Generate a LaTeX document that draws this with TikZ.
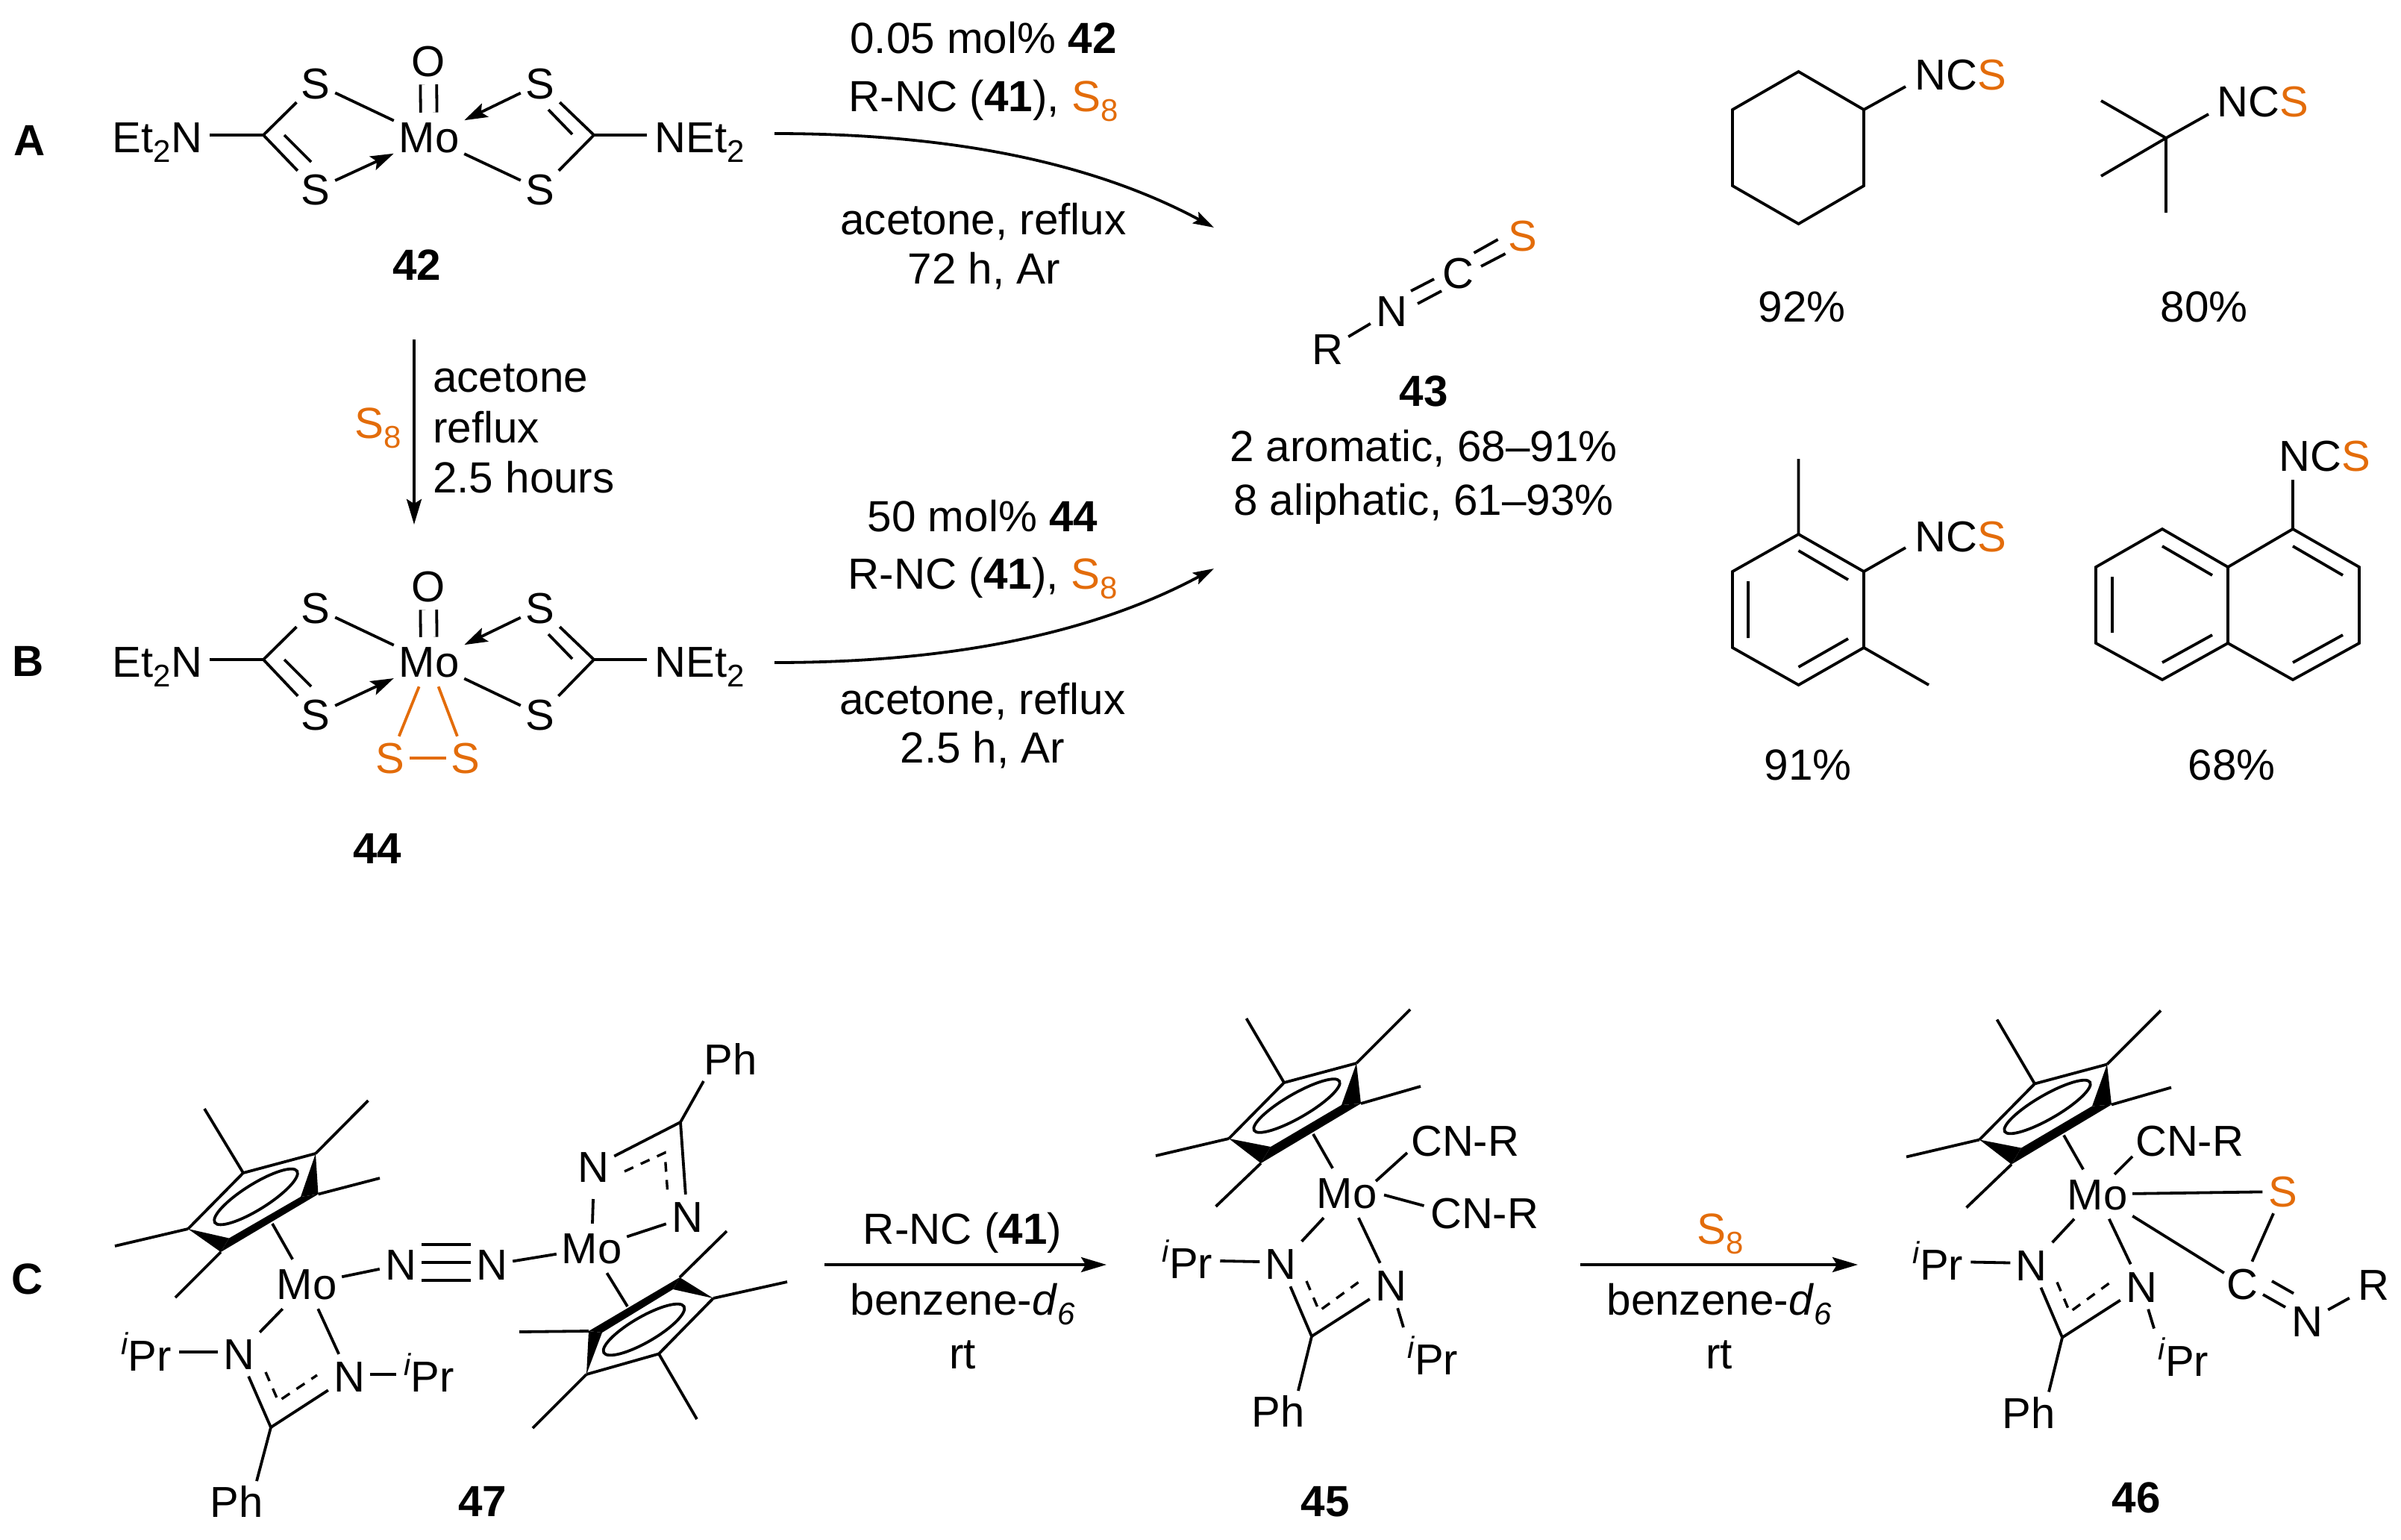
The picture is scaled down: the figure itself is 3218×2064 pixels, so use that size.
\documentclass[tikz,border=0pt]{standalone}
\usepackage{fontspec}
\setmainfont{Liberation Sans}
\usetikzlibrary{arrows.meta,calc}
\definecolor{sulf}{RGB}{227,108,10}
\newcommand\sbt[1]{\raisebox{-13pt}{\fontsize{42}{42}\selectfont #1}}
\newcommand\ipr{\raisebox{22pt}{\fontsize{41}{41}\selectfont\itshape i}Pr}
\newcommand\Seight{\textcolor{sulf}{S\sbt{8}}}
\newcommand\NCS{NC\textcolor{sulf}{S}}
\tikzset{
 bond/.style={line width=3.8pt},
 dat/.style={bond,-{Stealth[length=31pt,width=20pt,inset=6pt]}},
 rarrow/.style={bond,-{Stealth[length=34pt,width=20pt,inset=6pt]}},
 carrow/.style={bond,-{Stealth[length=28pt,width=17pt,inset=5pt]}},
 dbond/.style={line width=3.4pt,dash pattern=on 13pt off 11pt},
 dobl/.style={bond,double,double distance=18pt},
 txt/.style={font=\fontsize{58.4}{60}\selectfont,inner sep=0pt,text height=42pt,text depth=0pt},
 boldt/.style={txt,font=\fontsize{58.4}{60}\selectfont\bfseries},
 lab/.style={font=\fontsize{58}{60}\selectfont,inner sep=0pt,text height=41.5pt,text depth=0pt},
 atom/.style={lab,minimum width=56pt,minimum height=60pt},
 satom/.style={lab,minimum width=52pt,minimum height=50pt},
 oatom/.style={lab,minimum width=52pt,minimum height=62pt},
 matom/.style={lab,minimum width=94pt,minimum height=66pt},
 group/.style={lab,inner xsep=10pt,inner ysep=12pt},
 ncsl/.style={lab,anchor=west},
}
% Cp*Mo amidinate fragment shared by 45 and 46
\newcommand\mofrag[2]{%
\begin{scope}[shift={#2}]
 \coordinate (#1r1) at (1647,1526);
 \coordinate (#1r2) at (1721,1451);
 \coordinate (#1r3) at (1818,1425);
 \coordinate (#1r4) at (1824,1479);
 \coordinate (#1r5) at (1798,1481);
 \coordinate (#1r6) at (1690,1559);
 \coordinate (#1r7) at (1703,1537);
 \coordinate (#1e) at (1738,1482);
 \coordinate (#1m1) at (1670.5,1365);
 \coordinate (#1m2) at (1890,1353);
 \coordinate (#1m3) at (1904,1456);
 \coordinate (#1m4) at (1549,1549);
 \coordinate (#1m5) at (1629.5,1617);
 \coordinate (#1cp) at (1760,1520);
 \coordinate (#1cc) at (1758,1791);
 \coordinate (#1phb) at (1740,1864);
 \coordinate (#1ib) at (1881,1779);
 \coordinate (#1d1) at (1751,1717);
 \coordinate (#1d2) at (1768,1757);
 \coordinate (#1d3) at (1820.5,1718.6);
 \draw[bond,line join=miter] (#1r1)--(#1r2)--(#1r3);
 \fill (#1r3)--(#1r5)--(#1r4)--cycle;
 \fill (#1r5)--(#1r4)--(#1r6)--(#1r7)--cycle;
 \fill (#1r1)--(#1r7)--(#1r6)--cycle;
 \draw[bond] (#1r2)--(#1m1) (#1r3)--(#1m2) (#1r4)--(#1m3) (#1r1)--(#1m4) (#1r6)--(#1m5);
 \draw[bond,rotate around={30:(#1e)}] (#1e) ellipse [x radius=66pt,y radius=16pt];
 \node[matom] (#1mo) at (1805,1599) {Mo};
 \node[atom] (#1nl) at (1716.5,1694) {N};
 \node[atom] (#1nr) at (1864,1723) {N};
 \node[group] (#1il) at (1591.5,1693) {\ipr};
 \node[lab] (#1ir) at (1920.5,1822) {\ipr};
 \node[lab] (#1ph) at (1713,1892) {Ph};
 \draw[bond] (#1mo)--(#1cp);
 \draw[bond] (#1mo)--(#1nl);
 \draw[bond] (#1mo)--(#1nr);
 \draw[bond] (#1cc)--(#1nl);
 \draw[bond] (#1cc)--(#1nr);
 \draw[bond] (#1cc)--(#1phb);
 \draw[bond] (#1nr)--(#1ib);
 \draw[bond] ([yshift=3pt]#1nl.west)--([yshift=3pt]#1il.east);
 \draw[dbond] (#1d1)--(#1d2)--(#1d3);
\end{scope}}
% dithiocarbamate Mo complex of A and B
\newcommand\mocx[6]{% prefix, Mo y, C y, S up y, S down y, O y
 \node[matom] (#1mo) at (575,#2) {Mo};
 \node[oatom] (#1o) at (574,#6) {O};
 \node[satom] (#1s1) at (423,#4) {S};
 \node[satom] (#1s2) at (423,#5) {S};
 \node[satom] (#1s3) at (724,#4) {S};
 \node[satom] (#1s4) at (724,#5) {S};
 \coordinate (#1c1) at (353,#3);
 \coordinate (#1c2) at (796,#3);
 \node[group] (#1ln) at (211,#2) {Et\sbt{2}N};
 \node[group] (#1rn) at (937.5,#2) {NEt\sbt{2}};
 \draw[dobl] (#1o)--(#1mo);
 \draw[bond] (#1c1)--(#1s1);
 \draw[bond] (#1c1)--(#1s2);
 \draw[bond] (#1c2)--(#1s3);
 \draw[bond] (#1c2)--(#1s4);
 \draw[bond] (#1c1)--(#1c1-|#1ln.east);
 \draw[bond] (#1c2)--(#1c2-|#1rn.west);
 \draw[bond] ($(#1c1)+(28,0)$)--($(#1c1)+(64,36)$);
 \draw[bond] ($(#1c2)+(-29,-1)$)--($(#1c2)+(-61,-34)$);
 \draw[bond] (#1s1)--(#1mo);
 \draw[bond] (#1s4)--(#1mo);
 \draw[dat] (#1s2)--(#1mo);
 \draw[dat] (#1s3)--(#1mo);
}
\begin{document}
\begin{tikzpicture}[x=1pt,y=-1pt]
\path[use as bounding box] (0,0) rectangle (3218,2064);
% panel labels
\node[boldt] (lA) at (40,187) {A};
\node[boldt] (lB) at (38,885) {B};
\node[boldt] (lC) at (37,1713) {C};
% complexes 42 and 44
\mocx{a}{184}{181}{112}{254}{82}
\mocx{b}{887}{884}{815}{958}{786}
\node[boldt] (n42) at (559,354) {42};
\node[boldt] (n44) at (506,1136) {44};
\node[lab,text=sulf,minimum width=52pt,minimum height=58pt] (bs5) at (523,1016) {S};
\node[lab,text=sulf,minimum width=52pt,minimum height=58pt] (bs6) at (624,1016) {S};
\draw[bond,draw=sulf] (bmo)--(bs5);
\draw[bond,draw=sulf] (bmo)--(bs6);
\draw[bond,draw=sulf] (bs5)--(bs6);
% vertical arrow
\coordinate (v1) at (555,455);
\coordinate (v2) at (555,703);
\draw[rarrow] (v1)--(v2);
\node[txt,anchor=west] (vt1) at (580,504) {acetone};
\node[txt,anchor=west] (vt2) at (580,572) {reflux};
\node[txt,anchor=west] (vt3) at (580,639) {2.5 hours};
\node[txt] (vs8) at (507,566) {\Seight};
% curved arrows
\coordinate (ca1) at (1038,179);
\coordinate (ca2) at (1627,305);
\coordinate (cb1) at (1038,888);
\coordinate (cb2) at (1627,762);
\draw[carrow] (ca1) .. controls (1250,179) and (1450,210) .. (ca2);
\draw[carrow] (cb1) .. controls (1250,888) and (1450,857) .. (cb2);
\node[txt] (ta1) at (1318,50) {0.05 mol\% \textbf{42}};
\node[txt] (ta2) at (1318,128) {R-NC (\textbf{41}), \Seight};
\node[txt] (ta3) at (1318,293) {acetone, reflux};
\node[txt] (ta4) at (1319,359) {72 h, Ar};
\node[txt] (tb1) at (1317,691) {50 mol\% \textbf{44}};
\node[txt] (tb2) at (1317,768) {R-NC (\textbf{41}), \Seight};
\node[txt] (tb3) at (1317,936) {acetone, reflux};
\node[txt] (tb4) at (1317,1001) {2.5 h, Ar};
% product 43
\node[atom] (pr) at (1779,468) {R};
\node[atom] (pn) at (1865,417) {N};
\node[lab] (pc) at (1954,366) {C};
\node[lab,text=sulf] (ps) at (2040.6,316) {S};
\draw[bond] (pr)--(pn);
\draw[bond] (1891,390)--(1922,374) (1900,407)--(1932,390);
\draw[bond] (1975.5,339)--(2007.6,321) (1985,357)--(2017.6,340);
\node[boldt] (n43) at (1908,523) {43};
\node[txt] (y1) at (1908,597) {2 aromatic, 68–91\%};
\node[txt] (y2) at (1908,669) {8 aliphatic, 61–93\%};
% cyclohexyl
\draw[bond,line join=miter] (2410.5,96) coordinate (h1)--(2498,147) coordinate (h2)--(2498,249)--(2410.5,300)--(2322,249)--(2322,147)--cycle;
\node[ncsl] (s1) at (2566,100) {\NCS};
\coordinate (s1b) at (2554,116);
\draw[bond] (h2)--(s1b);
\node[txt] (y92) at (2415,410) {92\%};
% tert-butyl
\coordinate (t0) at (2903,185);
\coordinate (t1) at (2816,135);
\coordinate (t2) at (2816,236);
\coordinate (t3) at (2903,285);
\coordinate (t4) at (2960,153);
\draw[bond] (t0)--(t1) (t0)--(t2) (t0)--(t3) (t0)--(t4);
\node[ncsl] (s2) at (2971,136) {\NCS};
\node[txt] (y80) at (2954,410) {80\%};
% xylyl
\draw[bond,line join=miter] (2410.5,716) coordinate (x1)--(2498,766) coordinate (x2)--(2498,868) coordinate (x3)--(2410.5,918)--(2322,868)--(2322,766)--cycle;
\coordinate (x4) at (2410.5,615);
\coordinate (x5) at (2585,918);
\coordinate (x6) at (2554,734);
\draw[bond] (x1)--(x4) (x3)--(x5) (x2)--(x6);
\draw[bond] (2410.5,738)--(2477,777) (2343,779)--(2343,855) (2410.5,894)--(2477,856);
\node[ncsl] (s3) at (2566,719) {\NCS};
\node[txt] (y91) at (2423,1024) {91\%};
% naphthyl
\draw[bond,line join=miter] (3073,709) coordinate (k1)--(3162,760)--(3162,862)--(3073,911)--(2986,862) coordinate (k2)--(2986,760) coordinate (k3)--cycle;
\draw[bond,line join=miter] (k3)--(2898,709)--(2809,760)--(2809,862)--(2898,911)--(k2);
\coordinate (k4) at (3073,643);
\draw[bond] (k1)--(k4);
\draw[bond] (2898,732)--(2965,771) (2831,773)--(2831,848) (2898,888)--(2965,851);
\draw[bond] (3073,732)--(3140,771) (3073,888)--(3140,851);
\node[ncsl] (s4) at (3054,611) {\NCS};
\node[txt] (y68) at (2991,1024) {68\%};
% ---------- 47 ----------
\coordinate (e1) at (252,1647);
\coordinate (e2) at (326,1572);
\coordinate (e3) at (423,1546);
\coordinate (e4) at (426.5,1600.5);
\coordinate (e5) at (403,1604);
\coordinate (e6) at (296,1678);
\coordinate (e7) at (307,1659.5);
\coordinate (ec) at (343,1604);
\draw[bond,line join=miter] (e1)--(e2)--(e3);
\fill (e3)--(e5)--(e4)--cycle;
\fill (e5)--(e4)--(e6)--(e7)--cycle;
\fill (e1)--(e7)--(e6)--cycle;
\coordinate (em1) at (274,1486);
\coordinate (em2) at (493.5,1475);
\coordinate (em3) at (509,1579);
\coordinate (em4) at (154,1670);
\coordinate (em5) at (235,1739);
\draw[bond] (e2)--(em1) (e3)--(em2) (e4)--(em3) (e1)--(em4) (e6)--(em5);
\draw[bond,rotate around={32:(ec)}] (ec) ellipse [x radius=65pt,y radius=17pt];
\node[matom] (qm1) at (411,1721) {Mo};
\coordinate (qcp1) at (365,1640);
\draw[bond] (qm1)--(qcp1);
\node[atom] (qn1) at (537,1695) {N};
\node[atom] (qn2) at (659,1695) {N};
\node[matom] (qm2) at (793,1673) {Mo};
\draw[bond] (qm1)--(qn1);
\draw[bond] (qn2)--(qm2);
\draw[bond] ([yshift=3pt]qn1.east)--([yshift=3pt]qn2.west);
\draw[bond] ([yshift=27pt]qn1.east)--([yshift=27pt]qn2.west);
\draw[bond] ([yshift=-21pt]qn1.east)--([yshift=-21pt]qn2.west);
% lower amidinate
\node[atom] (qnl) at (320,1814.5) {N};
\node[atom] (qnr) at (468,1845) {N};
\node[group] (qil) at (196,1817) {\ipr};
\node[group] (qir) at (575,1845) {\ipr};
\coordinate (qc1) at (363,1913);
\coordinate (qb1) at (344,1985);
\node[lab] (qp1) at (317,2013) {Ph};
\draw[bond] (qm1)--(qnl);
\draw[bond] (qm1)--(qnr);
\draw[bond] (qc1)--(qnl);
\draw[bond] (qc1)--(qnr);
\draw[bond] (qc1)--(qb1);
\draw[bond] ([yshift=2.5pt]qnl.west)--([yshift=5pt]qil.east);
\draw[bond] ([yshift=3pt]qnr.east)--([yshift=3pt]qir.west);
\coordinate (qd1) at (356,1839);
\coordinate (qd2) at (373,1878);
\coordinate (qd3) at (425,1843);
\draw[dbond] (qd1)--(qd2)--(qd3);
% upper amidinate
\node[atom] (qnu) at (795,1564) {N};
\node[atom] (qnv) at (921,1631) {N};
\coordinate (qu1) at (795,1607);
\draw[bond] (qm2)--(qu1);
\draw[bond] (qm2)--(qnv);
\coordinate (qc2) at (912,1504);
\coordinate (qb2) at (943,1449);
\node[lab] (qp2) at (979,1420) {Ph};
\draw[bond] (qc2)--(qnu);
\draw[bond] (qc2)--(qnv);
\draw[bond] (qc2)--(qb2);
\coordinate (qd4) at (837,1570);
\coordinate (qd5) at (891,1545);
\coordinate (qd6) at (895,1602);
\draw[dbond] (qd4)--(qd5)--(qd6);
% right Cp*
\coordinate (f1) at (956,1740);
\coordinate (f2) at (883,1814.5);
\coordinate (f3) at (786,1842);
\coordinate (f4) at (789,1784);
\coordinate (f5) at (807,1786);
\coordinate (f6) at (911,1712);
\coordinate (f7) at (902,1728);
\coordinate (fc) at (863,1782);
\draw[bond,line join=miter] (f1)--(f2)--(f3);
\fill (f3)--(f4)--(f5)--cycle;
\fill (f4)--(f5)--(f7)--(f6)--cycle;
\fill (f1)--(f6)--(f7)--cycle;
\coordinate (fm1) at (974,1650);
\coordinate (fm2) at (1055,1718);
\coordinate (fm3) at (934,1902);
\coordinate (fm4) at (714,1914);
\coordinate (fm5) at (696,1785);
\draw[bond] (f6)--(fm1) (f1)--(fm2) (f2)--(fm3) (f3)--(fm4) (f4)--(fm5);
\draw[bond,rotate around={30:(fc)}] (fc) ellipse [x radius=62pt,y radius=17pt];
\coordinate (qcp2) at (841,1751);
\draw[bond] (qm2)--(qcp2);
\node[boldt] (n47) at (647,2011) {47};
% arrows C
\coordinate (r1a) at (1105,1695);
\coordinate (r1b) at (1483,1695);
\draw[rarrow] (r1a)--(r1b);
\node[txt] (r1t1) at (1290,1646) {R-NC (\textbf{41})};
\node[txt] (r1t2) at (1290,1741) {benzene-\textit{d}\sbt{\textit{6}}};
\node[txt] (r1t3) at (1290,1813) {rt};
\coordinate (r2a) at (2118,1695);
\coordinate (r2b) at (2490,1695);
\draw[rarrow] (r2a)--(r2b);
\node[txt] (r2t1) at (2306,1646) {\Seight};
\node[txt] (r2t2) at (2304,1741) {benzene-\textit{d}\sbt{\textit{6}}};
\node[txt] (r2t3) at (2304,1813) {rt};
% 45
\mofrag{u}{(0,0)}
\node[lab,anchor=west] (ucn1) at (1891,1529) {CN-R};
\node[lab,anchor=west] (ucn2) at (1917,1626) {CN-R};
\coordinate (ub1) at (1886,1545);
\coordinate (ub2) at (1908.5,1616);
\draw[bond] ($(umo)+(39,-16)$)--(ub1);
\draw[bond] ($(umo)+(50,2.5)$)--(ub2);
\node[boldt] (n45) at (1776,2011) {45};
% 46
\mofrag{w}{(1006,1.5)}
\node[lab,anchor=west] (wcn) at (2862,1529) {CN-R};
\coordinate (wb1) at (2858,1550);
\draw[bond] ($(wmo)+(23,-26.5)$)--(wb1);
\node[lab,text=sulf,minimum width=55pt,minimum height=58pt] (ws) at (3060,1597) {S};
\node[lab,minimum width=48pt,minimum height=60pt] (wc) at (3005,1721) {C};
\node[atom] (wn) at (3092,1771) {N};
\node[lab,minimum width=64pt,minimum height=60pt] (wr) at (3181,1722) {R};
\draw[bond] (wmo)--(ws);
\draw[bond] (wmo)--(wc);
\draw[bond] (ws)--(wc);
\draw[bond] (wn)--(wr);
\draw[bond] (3033,1735)--(3063,1752) (3045,1717)--(3074,1733.5);
\node[boldt] (n46) at (2863,2006.5) {46};
\end{tikzpicture}
\end{document}
